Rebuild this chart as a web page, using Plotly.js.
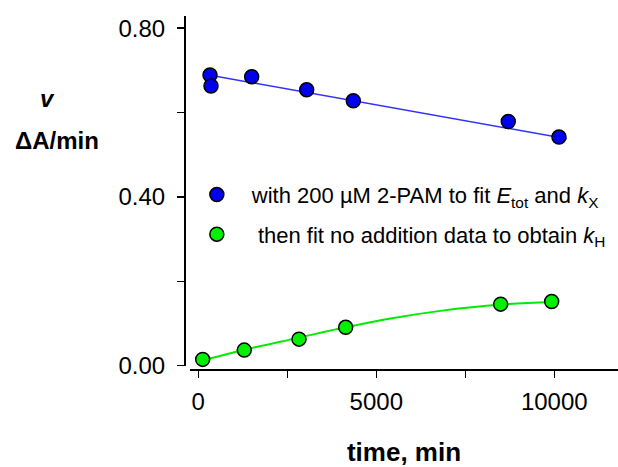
<!DOCTYPE html>
<html>
<head>
<meta charset="utf-8">
<script src="https://cdn.plot.ly/plotly-3.0.1.min.js"></script>
<style>html,body{margin:0;padding:0;background:#fff;}#chart{width:618px;height:467px;}</style>
</head>
<body>
<div id="chart"></div>
<script>
// Data
const blueTime = [329, 357, 1500, 3045, 4354, 8708, 10132];
const blueRate = [0.689, 0.663, 0.685, 0.654, 0.628, 0.579, 0.542];
const blueFitTime = [300, 10350];
const blueFitRate = [0.689, 0.538];

const greenTime = [124, 1292, 2829, 4140, 8494, 9927];
const greenRate = [0.015, 0.037, 0.063, 0.091, 0.146, 0.152];
const greenFitTime = [100, 1300, 2800, 4140, 5400, 6800, 8500, 9950];
const greenFitRate = [0.012, 0.038, 0.066, 0.091, 0.112, 0.130, 0.145, 0.151];

const blueLabel = 'with 200 \u00b5M 2-PAM to fit <i>E</i><sub>tot</sub> and <i>k</i><sub>X</sub>';
const greenLabel = '\u00a0then fit no addition data to obtain <i>k</i><sub>H</sub>';

const xTickVals = [0, 5000, 10000];
const xTickText = ['0', '5000', '10000'];
const yTickVals = [0, 0.4, 0.8];
const yTickText = ['0.00', '0.40', '0.80'];

const FONT = 'Liberation Sans, Arial, sans-serif';

const traces = [
  {x: blueFitTime, y: blueFitRate, mode: 'lines', line: {color: 'rgb(50,50,255)', width: 1.5}, showlegend: false, hoverinfo: 'skip'},
  {x: greenFitTime, y: greenFitRate, mode: 'lines', line: {color: 'rgb(0,235,0)', width: 2, shape: 'spline'}, showlegend: false, hoverinfo: 'skip'},
  {x: blueTime, y: blueRate, mode: 'markers', name: blueLabel, legendgroup: 'a',
   marker: {color: 'rgb(0,0,240)', size: 14, line: {color: '#000', width: 1.5}}, cliponaxis: false},
  {x: greenTime, y: greenRate, mode: 'markers', name: greenLabel, legendgroup: 'b',
   marker: {color: 'rgb(0,240,0)', size: 14, line: {color: '#000', width: 1.5}}, cliponaxis: false}
];

const layout = {
  width: 618, height: 467,
  margin: {l: 184, r: 0, t: 16, b: 98},
  paper_bgcolor: '#fff', plot_bgcolor: '#fff',
  font: {family: FONT, color: '#000'},
  showlegend: true,
  legend: {x: -0.005, xanchor: 'left', y: 0.553, yanchor: 'top', itemwidth: 60,
           traceorder: 'grouped', tracegroupgap: 8, bgcolor: 'rgba(0,0,0,0)',
           font: {family: FONT, size: 22, color: '#000'}},
  xaxis: {
    range: [-233, 11790], domain: [0.0138, 1], anchor: 'free', position: 0,
    showgrid: false, zeroline: false, showline: true, linecolor: '#000', linewidth: 1.5,
    ticks: 'outside', ticklen: 7, tickwidth: 1.5, tickcolor: '#000',
    tickmode: 'array', tickvals: xTickVals, ticktext: xTickText, ticklabelstandoff: 4,
    minor: {dtick: 2500, tick0: 0, ticks: 'outside', ticklen: 7, tickwidth: 1.5, tickcolor: '#000', showgrid: false},
    tickfont: {family: FONT, size: 24, color: '#000'},
    title: {text: 'time, min', font: {family: FONT, size: 26, color: '#000', weight: 'bold'}, standoff: 30}
  },
  yaxis: {
    range: [0, 0.829], domain: [0.0093, 1], anchor: 'free', position: 0,
    showgrid: false, zeroline: false, showline: true, linecolor: '#000', linewidth: 1.5,
    ticks: 'outside', ticklen: 7, tickwidth: 1.5, tickcolor: '#000',
    tickmode: 'array', tickvals: yTickVals, ticktext: yTickText, ticklabelstandoff: 7,
    minor: {dtick: 0.2, tick0: 0, ticks: 'outside', ticklen: 7, tickwidth: 1.5, tickcolor: '#000', showgrid: false},
    tickfont: {family: FONT, size: 24, color: '#000'}
  },
  annotations: [
    {xref: 'paper', yref: 'paper', x: -0.3134, y: 0.7677, text: '<i>v</i>', showarrow: false,
     xanchor: 'center', yanchor: 'middle', font: {family: FONT, size: 24, color: '#000', weight: 'bold'}},
    {xref: 'paper', yref: 'paper', x: -0.2926, y: 0.6487, text: '\u0394A/min', showarrow: false,
     xanchor: 'center', yanchor: 'middle', font: {family: FONT, size: 24, color: '#000', weight: 'bold'}}
  ]
};

Plotly.newPlot('chart', traces, layout, {displayModeBar: false, staticPlot: true});
</script>
</body>
</html>
